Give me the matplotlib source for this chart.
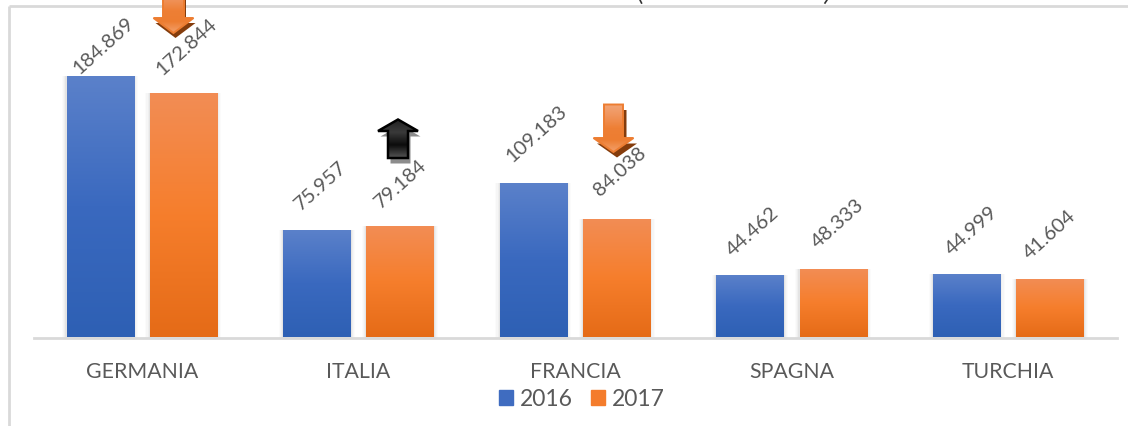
"""
Export per paese 2016 / 2017 - bar chart with gradient bars and arrows
"""

import numpy as np
import matplotlib
matplotlib.use("Agg")
import matplotlib.pyplot as plt
from matplotlib.colors import LinearSegmentedColormap
from matplotlib.patches import Polygon, Patch

plt.rcParams['font.family'] = ['Lato', 'DejaVu Sans']

paesi = ["GERMANIA", "ITALIA", "FRANCIA", "SPAGNA", "TURCHIA"]
anni = ["2016", "2017"]
valori_2016 = [184.869, 75.957, 109.183, 44.462, 44.999]
valori_2017 = [172.844, 79.184, 84.038, 48.333, 41.604]

GREY_TEXT = "#595959"
LINE = "#d9d9d9"

W, H = 1128, 426
fig = plt.figure(figsize=(W / 100, H / 100), dpi=100, facecolor="white")

# main axes, placed in pixels
base_y = 337.5
ax = fig.add_axes([33.5 / W, (H - base_y) / H, 1083 / W, base_y / H])
ax.patch.set_alpha(0)

blue_cmap = LinearSegmentedColormap.from_list("b", ["#2e60b4", "#3a69bf", "#5b81ca"])
orange_cmap = LinearSegmentedColormap.from_list("o", ["#e56b17", "#f67e2c", "#f28d55"])
ramp = np.linspace(1, 0, 128).reshape(-1, 1)

width = 0.311
offset = 0.192


def gradient_bars(xs, vals, cmap, zo=3):
    # soft shadow first
    for grow, a in [(0.040, 0.025), (0.030, 0.04), (0.020, 0.06), (0.010, 0.09)]:
        ax.bar(xs, vals, width + grow, color="#7f7f7f", alpha=a, lw=0, zorder=zo - 1)
    bars = ax.bar(xs, vals, width, color="none", lw=0, zorder=zo)
    for b in bars:
        x0, w, h = b.get_x(), b.get_width(), b.get_height()
        im = ax.imshow(ramp, extent=(x0, x0 + w, 0, h), cmap=cmap, aspect="auto",
                       vmin=0, vmax=1, zorder=zo, interpolation="bilinear")
        im.set_clip_path(b)
    return bars


pos = np.arange(len(paesi))
gradient_bars(pos - offset, valori_2016, blue_cmap)
gradient_bars(pos + offset, valori_2017, orange_cmap)

ax.set_xlim(-0.5, 4.5)
ax.set_ylim(0, base_y / 1.412)

# data labels, px offset from top of bar (dx, dy)
scarti_2016 = [(3, 31), (4, 44), (3.5, 49), (3, 43), (5, 43)]
scarti_2017 = [(3, 47), (1, 42), (3, 47), (4, 46), (0, 44)]
for xs, vals, scarti in [(pos - offset, valori_2016, scarti_2016),
                         (pos + offset, valori_2017, scarti_2017)]:
    for x, v, (dx, dy) in zip(xs, vals, scarti):
        ax.annotate(f"{v:.3f}", (x, v), xytext=(dx * 0.72, dy * 0.72),
                    textcoords="offset points", rotation=42, rotation_mode="anchor",
                    ha="center", va="center", fontsize=14.5, color=GREY_TEXT, zorder=6)

for s in ["top", "left", "right"]:
    ax.spines[s].set_visible(False)
ax.spines["bottom"].set_color(LINE)
ax.spines["bottom"].set_linewidth(2)
ax.set_yticks([])
ax.set_xticks(pos)
ax.set_xticklabels(paesi, fontsize=15.3, color=GREY_TEXT)
ax.tick_params(axis="x", length=0, pad=17.5)

handles = [Patch(color="#3f6cc0"), Patch(color="#f47c2c")]
ax.legend(handles, anni, loc="center", bbox_to_anchor=(581.5 / W, (H - 399) / H),
          bbox_transform=fig.transFigure, ncol=2, frameon=False, fontsize=16.5,
          labelcolor=GREY_TEXT, handlelength=0.62, handleheight=0.65,
          handletextpad=0.3, columnspacing=0.78, borderpad=0, borderaxespad=0)

# overlay in image pixels for frame and arrows
ov = fig.add_axes([0, 0, 1, 1], zorder=5)
ov.set_xlim(0, W)
ov.set_ylim(H, 0)
ov.axis("off")

ov.plot([8.5, W], [6, 6], color=LINE, lw=2, solid_capstyle="butt", zorder=1)
ov.plot([8.5, 8.5], [6, H], color=LINE, lw=2, solid_capstyle="butt", zorder=1)

# cut off title: only the bottom of the brackets is left in the picture
ov.plot([640, 641.5], [0, 3], color="#333333", lw=1.2, zorder=2)
ov.plot([827, 825], [0, 3], color="#333333", lw=1.2, zorder=2)


def arrow_points(cx, x_half, head_half, tail_y, neck_y, tip_y):
    return [(cx - x_half, tail_y), (cx + x_half, tail_y), (cx + x_half, neck_y),
            (cx + head_half, neck_y), (cx, tip_y), (cx - head_half, neck_y),
            (cx - x_half, neck_y)]


def draw_arrow(cx, x_half, head_half, tail_y, neck_y, tip_y, shadow_dx, shadow_dy,
               shadow_col, cmap, edge, edge_w):
    pts = arrow_points(cx, x_half, head_half, tail_y, neck_y, tip_y)
    ov.add_patch(Polygon([(x + shadow_dx, y + shadow_dy) for x, y in pts],
                         closed=True, fc=shadow_col, ec="none", zorder=3))
    poly = Polygon(pts, closed=True, fc="none", ec=edge, lw=edge_w, zorder=5)
    ov.add_patch(poly)
    top, bot = min(tail_y, tip_y), max(tail_y, tip_y)
    im = ov.imshow(np.linspace(0, 1, 64).reshape(-1, 1), cmap=cmap, aspect="auto",
                   extent=(cx - head_half, cx + head_half, bot, top), zorder=4,
                   interpolation="bilinear")
    im.set_clip_path(poly)


orange_arrow = LinearSegmentedColormap.from_list("oa", ["#f2a577", "#f0935a", "#ee7f35", "#ed7d31", "#f3a06c"])
black_arrow = LinearSegmentedColormap.from_list("ba", ["#222222", "#3a3a3a", "#0c0c0c", "#555555"])

draw_arrow(173.5, 10.5, 20, -12, 18, 33, 2, 5, "#843c0c", orange_arrow, "#ed7d31", 1.4)
draw_arrow(613.5, 9.5, 20, 104.5, 138, 152, 3.5, 5.5, "#843c0c", orange_arrow, "#ed7d31", 1.4)
draw_arrow(398, 10, 20, 158, 131, 119.5, 2.5, 5.5, "#8c8c8c", black_arrow, "#000000", 1.8)

ov.set_xlim(0, W)
ov.set_ylim(H, 0)

fig.savefig("out.png", dpi=100, facecolor="white")
